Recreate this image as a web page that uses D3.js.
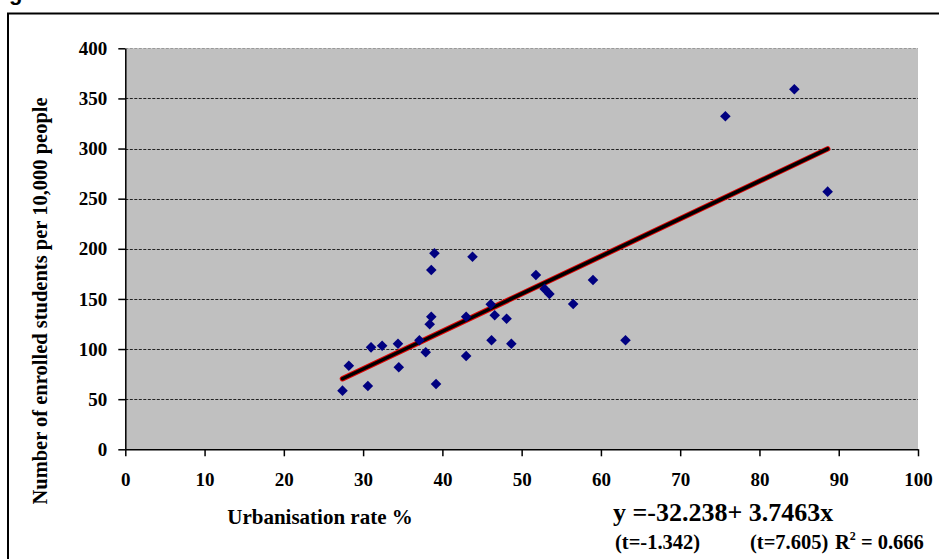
<!DOCTYPE html>
<html>
<head>
<meta charset="utf-8">
<script src="https://cdn.jsdelivr.net/npm/d3@7"></script>
<style>
  body { margin: 0; background: #fff; }
  svg text { font-family: "Liberation Serif", "Times New Roman", serif; font-weight: bold; fill: #000; }
</style>
</head>
<body>
<svg id="chart"></svg>
<script>
var width = 939;
var height = 559;

// urbanisation rate (%) and enrolled students per 10,000 people
var urbanRate = [27.4, 28.2, 30.6, 31.0, 32.4, 34.4, 34.5, 37.1, 37.9, 38.4, 38.6, 38.6, 39.0, 39.2,
                 43.0, 43.0, 43.8, 46.1, 46.2, 46.6, 48.1, 48.7, 51.8, 52.9, 53.5, 56.5, 59.0, 63.1,
                 75.7, 84.4, 88.6];
var enrolled  = [58.5, 83.4, 63.2, 101.7, 103.3, 105.3, 81.8, 108.7, 96.8, 124.7, 132.3, 178.9, 195.5, 65.1,
                 132.3, 93.1, 192.0, 144.6, 108.7, 133.7, 130.3, 105.3, 173.9, 160.0, 155.0, 144.9, 168.9, 108.7,
                 332.2, 359.1, 257.0];

var xTicks = [0, 10, 20, 30, 40, 50, 60, 70, 80, 90, 100];
var yTicks = [0, 50, 100, 150, 200, 250, 300, 350, 400];

var intercept = -32.238;
var slope = 3.7463;

var points = urbanRate.map((u, i) => ({x: u, y: enrolled[i]}));

var margin = {left: 125.3, right: 918, top: 48.3, bottom: 449.3};

var xScale = d3.scaleLinear()
    .domain([0, 100])
    .range([margin.left, margin.right]);

var yScale = d3.scaleLinear()
    .domain([0, 400])
    .range([margin.bottom, margin.top]);

var svg = d3.select("#chart")
    .attr("width", width)
    .attr("height", height);

// heading above the frame, mostly cut off by the page edge
svg.append("text")
    .attr("x", 9)
    .attr("y", 0)
    .style("font-family", "'Liberation Sans', Arial, sans-serif")
    .style("font-size", "22px")
    .text("g");

// outer frame
svg.append("rect")
    .attr("x", 8)
    .attr("y", 13.5)
    .attr("width", 1000)
    .attr("height", 600)
    .attr("fill", "none")
    .attr("stroke", "#000")
    .attr("stroke-width", 2);

// plot area
svg.append("rect")
    .attr("x", xScale(0))
    .attr("y", yScale(400))
    .attr("width", xScale(100) - xScale(0))
    .attr("height", yScale(0) - yScale(400))
    .attr("fill", "#c0c0c0");

// gridlines
svg.append("g")
    .selectAll("line")
    .data(yTicks.filter(d => d > 0))
    .enter()
    .append("line")
    .attr("x1", xScale(0))
    .attr("x2", xScale(100))
    .attr("y1", d => Math.round(yScale(d)) + 0.5)
    .attr("y2", d => Math.round(yScale(d)) + 0.5)
    .attr("stroke", d => d === 400 ? "#999" : "#222")
    .attr("stroke-width", 1)
    .attr("stroke-dasharray", "3,1.5");

var xAxis = d3.axisBottom(xScale)
    .tickValues(xTicks)
    .tickSize(7)
    .tickSizeOuter(0)
    .tickPadding(16);

var yAxis = d3.axisLeft(yScale)
    .tickValues(yTicks)
    .tickSize(7)
    .tickSizeOuter(0)
    .tickPadding(11);

var gx = svg.append("g")
    .attr("transform", `translate(0, ${margin.bottom})`)
    .call(xAxis);

var gy = svg.append("g")
    .attr("transform", `translate(${margin.left}, 0)`)
    .call(yAxis);

[gx, gy].forEach(g => {
    g.selectAll("path, line").attr("stroke", "#000").attr("stroke-width", 1.5);
    g.selectAll("text")
        .style("font-family", "'Liberation Serif', 'Times New Roman', serif")
        .style("font-weight", "bold")
        .style("font-size", "19px")
        .attr("fill", "#000");
});

// trend line
var x0 = d3.min(urbanRate), x1 = d3.max(urbanRate);
var trend = [[x0, intercept + slope * x0], [x1, intercept + slope * x1]];
var lineGen = d3.line().x(d => xScale(d[0])).y(d => yScale(d[1]));

svg.append("path")
    .attr("d", lineGen(trend))
    .attr("stroke", "#e00000")
    .attr("stroke-width", 5.5)
    .attr("stroke-linecap", "round")
    .attr("fill", "none");

svg.append("path")
    .attr("d", lineGen(trend))
    .attr("stroke", "#000")
    .attr("stroke-width", 3.5)
    .attr("stroke-linecap", "round")
    .attr("fill", "none");

// points
svg.append("g")
    .selectAll("path")
    .data(points)
    .enter()
    .append("path")
    .attr("d", d3.symbol().type(d3.symbolSquare).size(56))
    .attr("transform", d => `translate(${xScale(d.x)}, ${yScale(d.y)}) rotate(45)`)
    .attr("fill", "#000080");

// axis titles
svg.append("text")
    .attr("x", 320)
    .attr("y", 524)
    .style("text-anchor", "middle")
    .style("font-size", "21px")
    .text("Urbanisation rate %");

svg.append("text")
    .attr("transform", "rotate(-90)")
    .attr("x", -301)
    .attr("y", 47)
    .style("text-anchor", "middle")
    .style("font-size", "20.5px")
    .text("Number of enrolled students per 10,000 people");

// regression equation
svg.append("text")
    .attr("x", 613)
    .attr("y", 521)
    .style("font-size", "26px")
    .text("y =-32.238+ 3.7463x");

svg.append("text")
    .attr("x", 615)
    .attr("y", 549)
    .style("font-size", "20.5px")
    .text("(t=-1.342)");

svg.append("text")
    .attr("x", 750)
    .attr("y", 549)
    .style("font-size", "20.5px")
    .text("(t=7.605)");

var r2 = svg.append("text")
    .attr("x", 835)
    .attr("y", 549)
    .style("font-size", "20.5px");
r2.append("tspan").text("R");
r2.append("tspan").attr("dy", -9).style("font-size", "12px").text("2");
r2.append("tspan").attr("dy", 9).text(" = 0.666");
</script>
</body>
</html>
